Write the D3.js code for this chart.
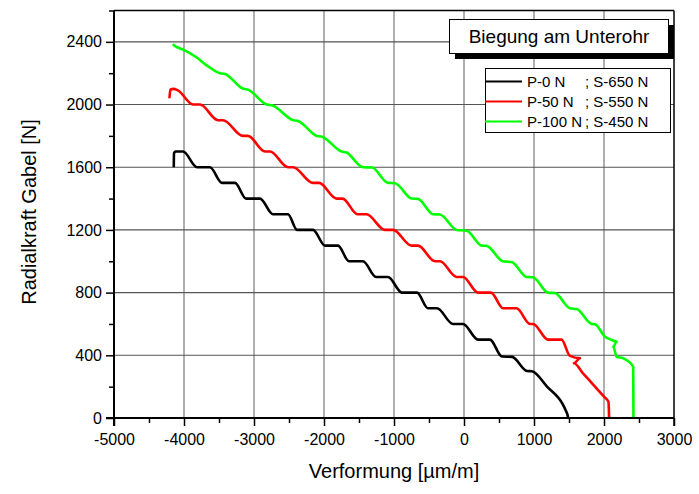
<!DOCTYPE html>
<html lang="de">

<head>
    <meta charset="UTF-8">
    <title>Biegung am Unterohr</title>
    <script src="https://cdn.jsdelivr.net/npm/d3@7"></script>
    <style>
        body {
            margin: 0;
            background: #fff;
        }

        svg text {
            font-family: "Liberation Sans", Arial, sans-serif;
            fill: #000;
        }
    </style>
</head>

<body>
    <svg id="chart" width="699" height="494"></svg>

    <script>
        // Verformung [µm/m] / Radialkraft [N]
        let p0_x = [-4146, -4143, -4120, -4014, -3814, -3629, -3457, -3271, -3114, -2914, -2729, -2514,
            -2386, -2157, -1986, -1800, -1643, -1443, -1257, -1086, -886, -671, -514, -386, -157, -14,
            200, 371, 543, 686, 900, 971, 1186, 1414, 1457, 1484, 1488]
        let p0_y = [1600, 1690, 1700, 1700, 1600, 1600, 1500, 1500, 1400, 1400, 1300, 1300,
            1200, 1200, 1100, 1100, 1000, 1000, 900, 900, 800, 800, 700, 700, 600, 600,
            500, 500, 392, 390, 300, 298, 200, 85, 45, 10, 0]

        let p50_x = [-4208, -4195, -4150, -4086, -3871, -3771, -3514, -3443, -3157, -3086, -2843, -2771,
            -2514, -2443, -2157, -2071, -1821, -1736, -1521, -1393, -1129, -1014, -750, -657, -414, -343,
            -107, -14, 200, 386, 557, 750, 943, 986, 1200, 1393, 1514, 1657, 1571, 1700, 1871, 2000,
            2064, 2069, 2073]
        let p50_y = [2040, 2095, 2100, 2090, 2000, 2000, 1900, 1900, 1800, 1800, 1700, 1700,
            1600, 1600, 1500, 1500, 1400, 1400, 1300, 1300, 1200, 1200, 1100, 1100, 1000, 1000,
            900, 900, 800, 800, 700, 700, 600, 600, 500, 500, 396, 381, 349, 285, 200, 136,
            104, 60, 0]

        let p100_x = [-4161, -4114, -4010, -3819, -3676, -3486, -3414, -3152, -3086, -2819, -2743, -2439,
            -2371, -2104, -2029, -1747, -1686, -1443, -1314, -1086, -986, -747, -657, -443, -343,
            -104, 39, 253, 324, 557, 681, 896, 986, 1200, 1300, 1514, 1610, 1824, 1871, 2014,
            2110, 2181, 2133, 2181, 2276, 2417, 2421]
        let p100_y = [2385, 2370, 2350, 2300, 2250, 2200, 2195, 2100, 2095, 2000, 1995, 1900,
            1895, 1800, 1795, 1700, 1695, 1600, 1598, 1500, 1498, 1400, 1398, 1300, 1298,
            1200, 1195, 1100, 1098, 1000, 995, 900, 898, 800, 797, 700, 695, 600, 598, 519,
            498, 487, 455, 391, 381, 328, 0]

        let seriesNames = ["P-0 N", "P-50 N", "P-100 N"]
        let seriesS = ["S-650 N", "S-550 N", "S-450 N"]
        let seriesColors = ["#000000", "#ff0000", "#00ff00"]

        let xTicks = [-5000, -4000, -3000, -2000, -1000, 0, 1000, 2000, 3000]
        let yTicks = [0, 400, 800, 1200, 1600, 2000, 2400]

        let svg = d3.select("#chart")
        let pLeft = 114, pRight = 674, pTop = 10.5, pBottom = 418

        let x = d3.scaleLinear().domain([-5000, 3000]).range([pLeft, pRight])
        let y = d3.scaleLinear().domain([0, 2600]).range([pBottom, pTop])

        // grid
        svg.append("g")
            .selectAll("line")
            .data(xTicks.slice(1, -1))
            .join("line")
            .attr("x1", d => x(d)).attr("x2", d => x(d))
            .attr("y1", pTop).attr("y2", pBottom)
            .attr("stroke", "#7a7a7a").attr("stroke-width", 1.2)
        svg.append("g")
            .selectAll("line")
            .data(yTicks.slice(1))
            .join("line")
            .attr("x1", pLeft).attr("x2", pRight)
            .attr("y1", d => y(d)).attr("y2", d => y(d))
            .attr("stroke", "#555").attr("stroke-width", 1.1)

        // curves
        let series = [
            d3.zip(p0_x, p0_y),
            d3.zip(p50_x, p50_y),
            d3.zip(p100_x, p100_y)
        ]
        let line = d3.line()
            .x(d => x(d[0]))
            .y(d => y(d[1]))
            .curve(d3.curveMonotoneX)

        svg.append("g")
            .selectAll("path")
            .data(series)
            .join("path")
            .attr("d", line)
            .attr("fill", "none")
            .attr("stroke", (d, i) => seriesColors[i])
            .attr("stroke-width", 2.6)
            .attr("stroke-linejoin", "round")

        // axes
        let xAxis = svg.append("g")
            .attr("transform", `translate(0,${pBottom})`)
            .call(d3.axisBottom(x).tickValues(xTicks).tickSize(8).tickPadding(8).tickFormat(d3.format("d")))
        let xMinor = svg.append("g")
            .attr("transform", `translate(0,${pBottom})`)
            .call(d3.axisBottom(x).tickValues(xTicks.slice(0, -1).map(d => d + 500)).tickSize(5).tickFormat(""))
        let yAxis = svg.append("g")
            .attr("transform", `translate(${pLeft},0)`)
            .call(d3.axisLeft(y).tickValues(yTicks).tickSize(8).tickPadding(4).tickFormat(d3.format("d")))
        let yMinor = svg.append("g")
            .attr("transform", `translate(${pLeft},0)`)
            .call(d3.axisLeft(y).tickValues([200, 600, 1000, 1400, 1800, 2200, 2600]).tickSize(5).tickFormat(""))

        for (let g of [xAxis, xMinor, yAxis, yMinor]) {
            g.select(".domain").remove()
            g.selectAll("line").attr("stroke", "#000").attr("stroke-width", 1.5)
            g.selectAll("text")
                .style("font-family", "'Liberation Sans', Arial, sans-serif")
                .style("font-size", "16px")
                .attr("fill", "#000")
        }
        xAxis.selectAll("text").text(d => d < 0 ? "-" + Math.abs(d) : d)

        // frame
        svg.append("line").attr("x1", pLeft).attr("x2", pRight).attr("y1", pTop).attr("y2", pTop)
            .attr("stroke", "#000").attr("stroke-width", 1.5)
        svg.append("line").attr("x1", pRight).attr("x2", pRight).attr("y1", pTop).attr("y2", pBottom + 8)
            .attr("stroke", "#000").attr("stroke-width", 1.5)
        svg.append("line").attr("x1", pLeft).attr("x2", pLeft).attr("y1", pTop).attr("y2", pBottom + 8)
            .attr("stroke", "#000").attr("stroke-width", 2)
        svg.append("line").attr("x1", pLeft - 8).attr("x2", pRight).attr("y1", pBottom).attr("y2", pBottom)
            .attr("stroke", "#000").attr("stroke-width", 2)

        // axis titles
        svg.append("text")
            .attr("x", 394).attr("y", 478)
            .attr("text-anchor", "middle")
            .style("font-size", "20px")
            .text("Verformung [µm/m]")
        svg.append("text")
            .attr("transform", "translate(36,212) rotate(-90)")
            .attr("text-anchor", "middle")
            .style("font-size", "20px")
            .text("Radialkraft Gabel [N]")

        // title box with shadow
        svg.append("rect").attr("x", 455).attr("y", 25).attr("width", 219).attr("height", 34).attr("fill", "#000")
        svg.append("rect").attr("x", 449.5).attr("y", 19.5).attr("width", 219).attr("height", 34)
            .attr("fill", "#fff").attr("stroke", "#000").attr("stroke-width", 1)
        svg.append("text")
            .attr("x", 559).attr("y", 43)
            .attr("text-anchor", "middle")
            .style("font-size", "19px")
            .text("Biegung am Unterohr")

        // legend
        let legend = svg.append("g")
        legend.append("rect").attr("x", 485.5).attr("y", 68.5).attr("width", 185).attr("height", 64)
            .attr("fill", "#fff").attr("stroke", "#000").attr("stroke-width", 1)
        seriesNames.forEach(function (name, i) {
            let ly = 81.5 + i * 20
            legend.append("line")
                .attr("x1", 485).attr("x2", 522).attr("y1", ly).attr("y2", ly)
                .attr("stroke", seriesColors[i]).attr("stroke-width", 2)
            let t = legend.append("text")
                .attr("x", 527).attr("y", ly + 5.5)
                .style("font-size", "15px")
                .text(name)
            let end = 527 + t.node().getComputedTextLength()
            legend.append("text")
                .attr("x", Math.max(585, end + 0.5)).attr("y", ly + 5.5)
                .style("font-size", "15px")
                .text("; " + seriesS[i])
        })
    </script>

</body>

</html>
